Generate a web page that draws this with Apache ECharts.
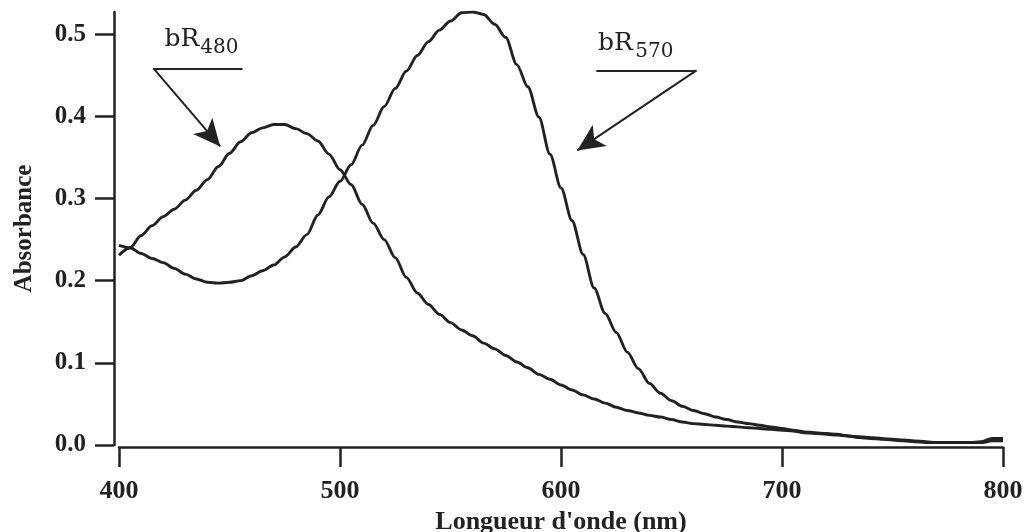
<!DOCTYPE html>
<html><head><meta charset="utf-8">
<script src="https://cdn.jsdelivr.net/npm/echarts@6/dist/echarts.min.js"></script>
<style>html,body{margin:0;padding:0;background:#fff}#c{width:1027px;height:532px}</style>
</head><body><div id="c"></div>
<script>
// Wavelength (nm)
const wavelengths = [400,405,410,415,420,425,430,435,440,445,450,455,460,465,470,475,480,485,490,495,
  500,505,510,515,520,525,530,535,540,545,550,555,560,565,570,575,580,585,590,595,
  600,605,610,615,620,625,630,635,640,645,650,655,660,665,670,675,680,685,690,695,
  700,705,710,715,720,725,730,735,740,745,750,755,760,765,770,775,780,785,790,795,800];
// Absorbance, bR480
const absBR480 = [0.231,0.240,0.255,0.267,0.278,0.287,0.298,0.310,0.323,0.339,0.355,0.369,0.380,0.386,0.390,0.390,0.385,0.379,0.370,0.354,
  0.335,0.317,0.293,0.270,0.250,0.228,0.204,0.185,0.171,0.159,0.149,0.140,0.133,0.124,0.117,0.109,0.101,0.094,0.086,0.080,
  0.073,0.067,0.061,0.056,0.051,0.046,0.042,0.039,0.036,0.034,0.031,0.028,0.026,0.025,0.024,0.023,0.022,0.021,0.020,0.019,
  0.018,0.017,0.015,0.014,0.013,0.012,0.011,0.009,0.008,0.007,0.006,0.005,0.004,0.003,0.003,0.003,0.003,0.003,0.003,0.005,0.005];
// Absorbance, bR570
const absBR570 = [0.243,0.240,0.233,0.227,0.222,0.215,0.208,0.202,0.198,0.197,0.198,0.200,0.206,0.212,0.219,0.229,0.241,0.256,0.280,0.302,
  0.321,0.341,0.365,0.389,0.412,0.434,0.455,0.474,0.491,0.505,0.516,0.526,0.527,0.524,0.512,0.496,0.463,0.436,0.399,0.354,
  0.313,0.273,0.232,0.191,0.160,0.137,0.113,0.093,0.075,0.063,0.054,0.047,0.042,0.038,0.034,0.031,0.028,0.026,0.024,0.022,
  0.020,0.018,0.016,0.015,0.014,0.013,0.011,0.010,0.009,0.008,0.007,0.006,0.005,0.004,0.003,0.003,0.003,0.003,0.004,0.008,0.008];
const yTicks = [0, 0.1, 0.2, 0.3, 0.4, 0.5];
const xTickInterval = 100;

// Annotation anchors (data units)
const ann480 = {main:'bR', sub:'480', labelAt:[420.6,0.4848], subAt:[436.8,0.476], bar:[[415.6,0.4585],[455.9,0.4585]], arrowFrom:[415.6,0.4585], arrowTo:[445.8,0.3634]};
const ann570 = {main:'bR', sub:'570', labelAt:[616.7,0.479], subAt:[633.6,0.471], bar:[[616.0,0.456],[661.3,0.456]], arrowFrom:[661.3,0.456], arrowTo:[607.4,0.3585]};

const INK = '#222';
const serifBold = {fontFamily:'"Liberation Serif", "Times New Roman", serif', fontWeight:'bold', color:INK};

function pairs(xs, ys){ return xs.map((x,i)=>[x, ys[i]]); }
function annLines(a){
  return [
    [{coord:a.bar[0], symbol:'none'}, {coord:a.bar[1], symbol:'none'}],
    [{coord:a.arrowFrom, symbol:'none'}, {coord:a.arrowTo, symbol:'arrow'}]
  ];
}
const markLineBase = {silent:true, animation:false, symbolSize:[19,27], label:{show:false},
  lineStyle:{color:INK, width:2, type:'solid'}, emphasis:{disabled:true}};

const chart = echarts.init(document.getElementById('c'), null, {renderer:'canvas'});
chart.setOption({
  animation:false,
  backgroundColor:'#fff',
  grid:{left:119, right:24, top:12, bottom:87, containLabel:false, outerBoundsMode:'none'},
  xAxis:{type:'value', min:400, max:800, interval:xTickInterval, offset:2,
    axisLine:{onZero:false, lineStyle:{color:INK, width:2.5}},
    axisTick:{length:20, lineStyle:{color:INK, width:2.5}},
    axisLabel:Object.assign({margin:31, fontSize:26}, serifBold),
    splitLine:{show:false},
    name:"Longueur d'onde (nm)", nameLocation:'middle', nameGap:55,
    nameTextStyle:Object.assign({fontSize:26}, serifBold)
  },
  yAxis:{type:'value', min:0, max:0.527, offset:5,
    axisLine:{show:true, lineStyle:{color:INK, width:2.5}},
    axisTick:{show:true, length:19, customValues:yTicks, lineStyle:{color:INK, width:2.5}},
    axisLabel:Object.assign({margin:28, fontSize:25, customValues:yTicks, formatter:v=>Number(v).toFixed(1)}, serifBold),
    splitLine:{show:false},
    name:'Absorbance', nameLocation:'middle', nameGap:77, nameRotate:90,
    nameTextStyle:Object.assign({fontSize:25}, serifBold)
  },
  series:[
    {name:'bR480', type:'line', data:pairs(wavelengths, absBR480), showSymbol:false, symbol:'none',
      smooth:0.3, smoothMonotone:'x',
      lineStyle:{color:INK, width:2.9}, itemStyle:{color:INK},
      markLine:Object.assign({data:annLines(ann480)}, markLineBase)},
    {name:'bR570', type:'line', data:pairs(wavelengths, absBR570), showSymbol:false, symbol:'none',
      smooth:0.3, smoothMonotone:'x',
      lineStyle:{color:INK, width:2.9}, itemStyle:{color:INK},
      markLine:Object.assign({data:annLines(ann570)}, markLineBase)}
  ]
});

function labelGraphics(a){
  const p = chart.convertToPixel({gridIndex:0}, a.labelAt);
  const q = chart.convertToPixel({gridIndex:0}, a.subAt);
  return [
    {type:'text', x:p[0], y:p[1]+5, silent:true,
      style:{text:a.main, font:'25px "DejaVu Serif", serif', fill:INK, verticalAlign:'bottom', align:'left'}},
    {type:'text', x:q[0], y:q[1]+4, silent:true,
      style:{text:a.sub, font:'20px "DejaVu Serif", serif', fill:INK, verticalAlign:'bottom', align:'left'}}
  ];
}
chart.setOption({graphic:[].concat(labelGraphics(ann480), labelGraphics(ann570))});
</script>
</body></html>
